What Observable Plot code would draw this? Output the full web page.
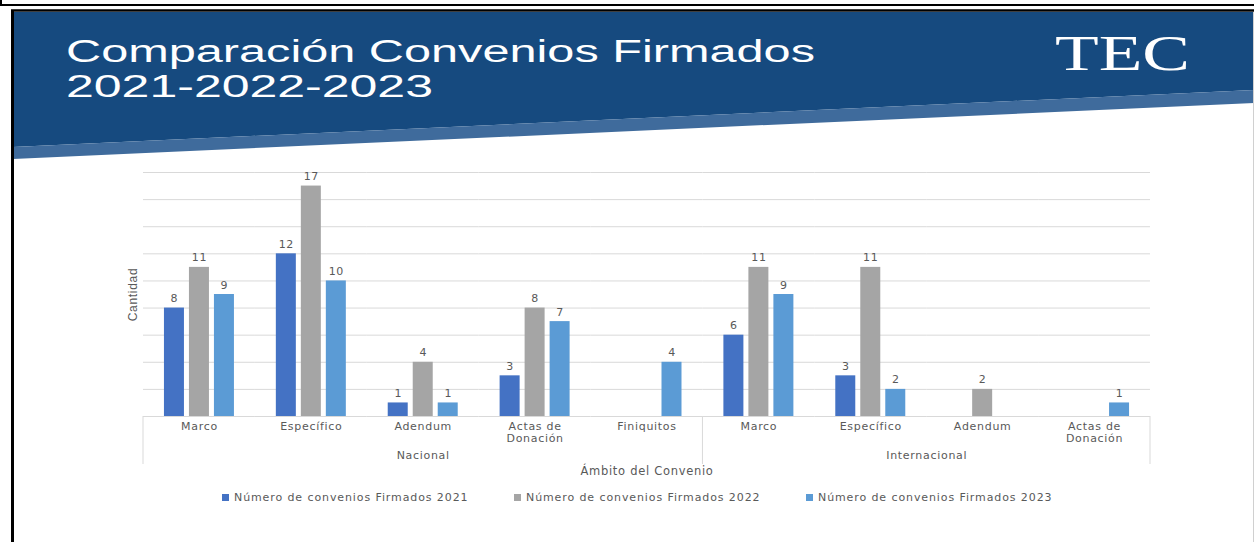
<!DOCTYPE html>
<html>
<head>
<meta charset="utf-8">
<script src="https://cdn.jsdelivr.net/npm/d3@7"></script>
<script src="https://cdn.jsdelivr.net/npm/@observablehq/plot@0.6"></script>
<style>
  html, body { margin: 0; padding: 0; background: #ffffff; }
  #page { position: relative; width: 1254px; height: 542px; overflow: hidden; background: #ffffff; }
  #header { position: absolute; left: 0; top: 0; }
  #chart { position: absolute; left: 0; top: 160px; }
  #lborder { position: absolute; left: 11px; top: 10px; width: 2.5px; height: 532px; background: #000; }
  #rborder { position: absolute; left: 1253px; top: 12px; width: 1px; height: 530px; background: #d0d0d0; }
  #legend { position: absolute; left: 222px; top: 491px; display: flex; font-family: "DejaVu Sans", sans-serif; font-size: 11px; color: #595959; letter-spacing: 0.9px; }
  .item { width: 292px; display: flex; align-items: center; white-space: nowrap; }
  .sw { width: 7px; height: 7px; margin-right: 5px; flex: none; }
</style>
</head>
<body>
<div id="page">
  <svg id="header" width="1254" height="170" xmlns="http://www.w3.org/2000/svg">
    <line x1="0" y1="5" x2="1254" y2="5" stroke="#000" stroke-width="2"/>
    <line x1="1" y1="0" x2="1" y2="6" stroke="#000" stroke-width="2"/>
    <polygon points="13,12 1254,12 1254,90 13,147" fill="#164a7f"/>
    <polygon points="13,147 1254,90 1254,103 13,159" fill="#3f6b9c"/>
    <line x1="11" y1="10.5" x2="1254" y2="10.5" stroke="#000" stroke-width="2.5"/>
    <text fill="#ffffff" font-family="Liberation Sans, sans-serif" font-size="31"><tspan x="66" y="62" textLength="749" lengthAdjust="spacingAndGlyphs">Comparación Convenios Firmados</tspan><tspan x="66" y="97" textLength="367" lengthAdjust="spacingAndGlyphs">2021-2022-2023</tspan></text>
    <text x="1055" y="70" fill="#ffffff" font-family="Liberation Serif, serif" font-size="50" textLength="135" lengthAdjust="spacingAndGlyphs">TEC</text>
  </svg>
  <div id="chart"></div>
  <div id="legend"></div>
  <div id="lborder"></div>
  <div id="rborder"></div>
</div>
<script>
// ---- Data ----
const groupNames = ["Nacional", "Internacional"];
const catNacional = ["Marco", "Específico", "Adendum", "Actas de\nDonación", "Finiquitos"];
const catInternacional = ["Marco", "Específico", "Adendum", "Actas de\nDonación"];
const seriesNames = [
  "Número de convenios Firmados 2021",
  "Número de convenios Firmados 2022",
  "Número de convenios Firmados 2023"
];
const nac2021 = [8, 12, 1, 3, 0];
const nac2022 = [11, 17, 4, 8, 0];
const nac2023 = [9, 10, 1, 7, 4];
const int2021 = [6, 3, 0, 0];
const int2022 = [11, 11, 2, 0];
const int2023 = [9, 2, 0, 1];
const yTicks = [0, 2, 4, 6, 8, 10, 12, 14, 16, 18];
const seriesColors = ["#4472C4", "#A5A5A5", "#5B9BD5"];
const yLabel = "Cantidad";
const xLabel = "Ámbito del Convenio";

// ---- Build tables ----
const groupCats = [catNacional, catInternacional];
const groupValues = [[nac2021, nac2022, nac2023], [int2021, int2022, int2023]];
const facetKeys = [];
const catRows = [];
const rows = [];
groupNames.forEach((g, gi) => {
  groupCats[gi].forEach((c, ci) => {
    const key = g + "|" + c;
    facetKeys.push(key);
    catRows.push({key, cat: c});
    seriesNames.forEach((s, si) => {
      const v = groupValues[gi][si][ci];
      if (v > 0) rows.push({key, series: s, value: v});
    });
  });
});
// group label anchors
const groupLabelMarks = groupNames.map((g, gi) => {
  const cats = groupCats[gi];
  const n = cats.length;
  const idx = n % 2 === 1 ? (n - 1) / 2 : n / 2 - 1;
  return Plot.text([{key: g + "|" + cats[idx], label: g}], {
    fx: "key", text: "label",
    frameAnchor: n % 2 === 1 ? "bottom" : "bottom-right",
    textAnchor: "middle", lineAnchor: "top", dy: 35, fill: "#595959", fontSize: 11
  });
});
const midIdx = Math.floor(facetKeys.length / 2);
const xLabelMark = Plot.text([{key: facetKeys[midIdx], label: xLabel}], {
  fx: "key", text: "label",
  frameAnchor: facetKeys.length % 2 === 1 ? "bottom" : "bottom-right",
  textAnchor: "middle", lineAnchor: "top", dy: 50, fill: "#595959", fontSize: 11.5
});
const yLabelMark = Plot.text([{key: facetKeys[0], label: yLabel}], {
  fx: "key", text: "label", frameAnchor: "left", rotate: -90, dx: -10.5,
  textAnchor: "middle", fill: "#595959", fontSize: 12,
  fontFamily: "Liberation Sans Narrow, sans-serif", style: "letter-spacing:0"
});

const plot = Plot.plot({
  width: 1254,
  height: 320,
  marginLeft: 143,
  marginRight: 104,
  marginTop: 12,
  marginBottom: 64,
  fx: {domain: facetKeys, padding: 0, round: false, axis: null, label: null},
  x: {domain: seriesNames, paddingInner: 0.2, paddingOuter: 0.838, round: false, axis: null},
  y: {domain: [0, 18], axis: null},
  color: {domain: seriesNames, range: seriesColors},
  style: {fontFamily: "DejaVu Sans, sans-serif", fontSize: "11px", color: "#595959", background: "transparent", letterSpacing: "0.7px"},
  marks: [
    Plot.gridY(yTicks.filter(d => d > 0), {stroke: "#d9d9d9", strokeOpacity: 1}),
    Plot.ruleY([0], {stroke: "#d9d9d9", strokeOpacity: 1}),
    Plot.barY(rows, {fx: "key", x: "series", y: "value", fill: "series", insetLeft: 0, insetRight: 0}),
    Plot.text(rows, {fx: "key", x: "series", y: "value", text: d => String(d.value), dy: -6, lineAnchor: "bottom", fill: "#595959", fontSize: 11}),
    Plot.text(catRows, {fx: "key", text: "cat", frameAnchor: "bottom", lineAnchor: "top", dy: 5, lineHeight: 1.1, fill: "#595959", fontSize: 11}),
    ...groupLabelMarks,
    xLabelMark,
    yLabelMark
  ]
});
document.getElementById("chart").appendChild(plot);

// separators between category groups, positioned through the fx/y scales
(function () {
  const fxs = plot.scale("fx");
  const ys = plot.scale("y");
  const band = d3.scaleBand().domain(fxs.domain).range(fxs.range).paddingInner(0).paddingOuter(0);
  const y0 = ys.apply ? ys.apply(0) : d3.scaleLinear().domain(ys.domain).range(ys.range)(0);
  const positions = [];
  let start = 0;
  groupCats.forEach(cats => { positions.push(band(facetKeys[start])); start += cats.length; });
  positions.push(band(facetKeys[facetKeys.length - 1]) + band.bandwidth());
  const svg = d3.select(plot);
  positions.forEach(px => {
    svg.append("line").attr("x1", px).attr("x2", px).attr("y1", y0).attr("y2", y0 + 48)
      .attr("stroke", "#d9d9d9").attr("stroke-width", 1);
  });
})();

// legend
const legend = d3.select("#legend");
seriesNames.forEach((s, i) => {
  const it = legend.append("div").attr("class", "item");
  it.append("div").attr("class", "sw").style("background", seriesColors[i]);
  it.append("span").text(s);
});
</script>
</body>
</html>
